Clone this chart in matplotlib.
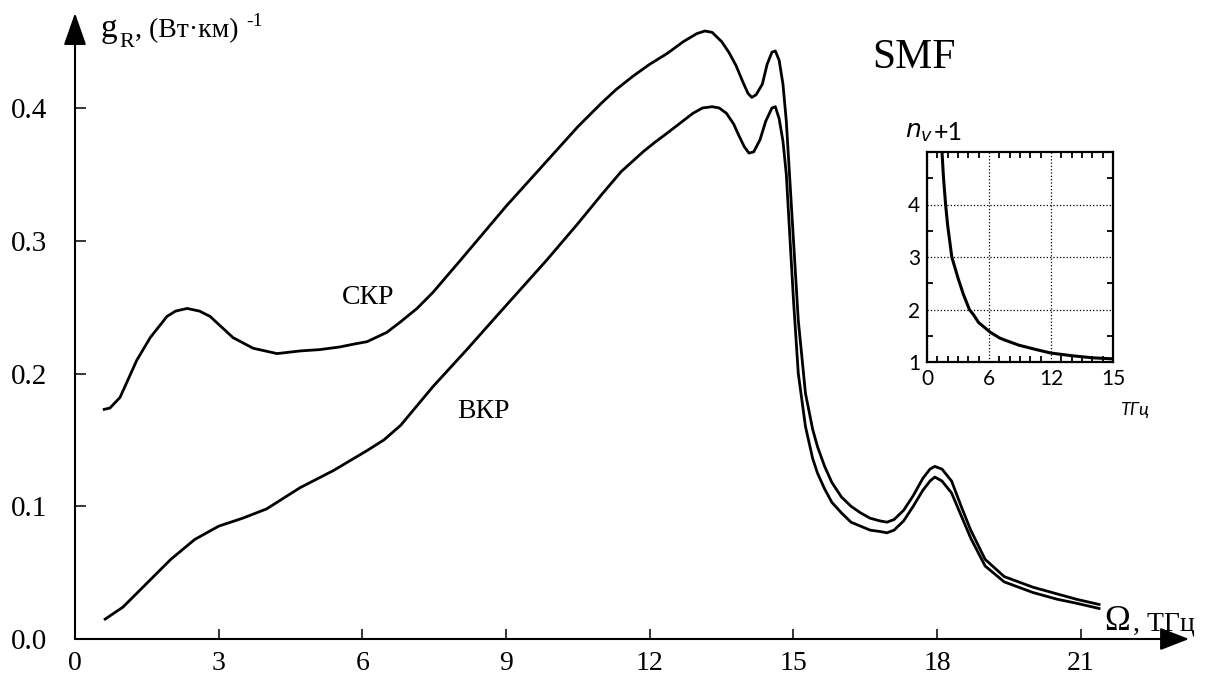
import matplotlib.pyplot as plt
from matplotlib.ticker import FixedLocator, MultipleLocator

W, H = 1211, 679

# upper curve (СКР), THz / (W*km)^-1
freq_skr = [0.61, 0.73, 0.94, 1.29, 1.57, 1.92, 2.1, 2.34, 2.6, 2.82, 3.30, 3.72,
            4.22, 4.7, 5.11, 5.53, 5.8, 6.10, 6.51, 6.8, 7.14, 7.47, 8.04, 9.0,
            10.0, 10.5, 11.0, 11.3, 11.65, 12.0, 12.36, 12.7, 12.98, 13.15, 13.3, 13.5, 13.65,
            13.8, 13.95, 14.05, 14.13, 14.22, 14.35, 14.45, 14.55, 14.62, 14.7,
            14.78, 14.85, 15.0, 15.1, 15.25, 15.4, 15.5, 15.65, 15.8, 16.0,
            16.2, 16.4, 16.6, 16.8, 16.95, 17.1, 17.3, 17.5, 17.7, 17.85,
            17.95, 18.1, 18.3, 18.5, 18.7, 19.0, 19.4, 20.0, 20.5, 20.9, 21.38]
g_skr = [0.173, 0.174, 0.182, 0.210, 0.227, 0.243, 0.247, 0.249, 0.247, 0.243, 0.227, 0.219,
         0.215, 0.217, 0.218, 0.220, 0.222, 0.224, 0.231, 0.239, 0.249, 0.261, 0.285, 0.326,
         0.366, 0.386, 0.404, 0.414, 0.424, 0.433, 0.441, 0.450, 0.456, 0.458, 0.457, 0.450, 0.442,
         0.432, 0.419, 0.411, 0.408, 0.410, 0.418, 0.433, 0.442, 0.443, 0.436,
         0.418, 0.390, 0.300, 0.240, 0.185, 0.158, 0.145, 0.130, 0.118, 0.107,
         0.100, 0.095, 0.091, 0.089, 0.088, 0.090, 0.097, 0.108, 0.121, 0.128,
         0.130, 0.128, 0.119, 0.100, 0.082, 0.060, 0.047, 0.039, 0.034, 0.030, 0.026]

# lower curve (ВКР)
freq_vkr = [0.63, 1.0, 1.5, 2.0, 2.5, 3.0, 3.5, 4.0, 4.7, 5.4,
            6.1, 6.45, 6.8, 7.1, 7.47, 8.18, 8.87, 9.85, 10.5, 11.0, 11.4, 11.86, 12.1, 12.36,
            12.9, 13.1, 13.3, 13.45, 13.6, 13.75, 13.85, 13.97, 14.07, 14.17,
            14.3, 14.42, 14.55, 14.62, 14.7, 14.78, 14.85, 15.0, 15.1, 15.25,
            15.4, 15.5, 15.65, 15.8, 16.0, 16.2, 16.4, 16.6, 16.8, 16.95,
            17.1, 17.3, 17.5, 17.7, 17.85, 17.95, 18.1, 18.3, 18.5, 18.7,
            19.0, 19.4, 20.0, 20.5, 20.9, 21.38]
g_vkr = [0.015, 0.024, 0.042, 0.060, 0.075, 0.085, 0.091, 0.098, 0.114, 0.127,
         0.142, 0.150, 0.161, 0.174, 0.190, 0.218, 0.246, 0.2855, 0.313, 0.335, 0.352, 0.367, 0.374, 0.381,
         0.396, 0.400, 0.401, 0.400, 0.396, 0.388, 0.380, 0.371, 0.366, 0.367,
         0.376, 0.390, 0.400, 0.401, 0.392, 0.375, 0.350, 0.255, 0.200, 0.160,
         0.136, 0.125, 0.113, 0.103, 0.095, 0.088, 0.085, 0.082, 0.081, 0.080,
         0.082, 0.089, 0.100, 0.112, 0.119, 0.122, 0.119, 0.110, 0.093, 0.076,
         0.055, 0.043, 0.035, 0.030, 0.027, 0.023]

x_ticks = [0, 3, 6, 9, 12, 15, 18, 21]
y_ticks = [0.0, 0.1, 0.2, 0.3, 0.4]

# inset: n_v + 1 vs frequency
freq_n = [1.45, 1.6, 1.8, 2.0, 2.4, 2.7, 3.0, 3.5, 4.1, 4.5, 5.0, 5.5, 6.1, 7.0,
          7.5, 8.9, 10.5, 12.0, 14.0, 16.0, 18.0]
n_plus1 = [5.0, 4.5, 4.0, 3.6, 3.0, 2.8, 2.6, 2.3, 2.0, 1.9, 1.75, 1.67, 1.57, 1.46,
           1.42, 1.32, 1.24, 1.17, 1.12, 1.08, 1.06]
inset_xticks = [0, 6, 12, 18]
inset_xlabels = ['0', '6', '12', '15']
inset_yticks = [1, 2, 3, 4]

serif = 'Liberation Serif'
sans = 'Lato'


def px(x, y):
    return x / W, 1 - y / H


fig = plt.figure(figsize=(W / 100, H / 100), dpi=100)

# main axes: x from 75px (0 THz) to 1189px (arrow tip), y from 639px to 13px
x_right = (1189 - 75) / 47.9
y_top = (639 - 13) / 1327.5
ax = fig.add_axes([75 / W, (H - 639) / H, (1189 - 75) / W, (639 - 13) / H])
ax.set_xlim(0, x_right)
ax.set_ylim(0, y_top)

ax.plot(freq_skr, g_skr, color='black', lw=2.0, solid_joinstyle='round')
ax.plot(freq_vkr, g_vkr, color='black', lw=2.0, solid_joinstyle='round')

for s in ax.spines.values():
    s.set_visible(False)
ax.annotate('', xy=(1, 0), xytext=(0, 0), xycoords='axes fraction',
            arrowprops=dict(arrowstyle='-|>,head_length=0.9,head_width=0.35',
                            color='black', lw=1.5, mutation_scale=20,
                            shrinkA=0, shrinkB=0))
ax.annotate('', xy=(0, 1), xytext=(0, 0), xycoords='axes fraction',
            arrowprops=dict(arrowstyle='-|>,head_length=1.0,head_width=0.35',
                            color='black', lw=1.5, mutation_scale=20,
                            shrinkA=0, shrinkB=0))

ax.set_xticks(x_ticks)
ax.set_xticklabels([str(t) for t in x_ticks])
ax.xaxis.set_minor_locator(FixedLocator([6, 12, 18]))
ax.set_yticks(y_ticks)
ax.set_yticklabels(['%.1f' % t for t in y_ticks])
ax.yaxis.set_minor_locator(FixedLocator([0.0, 0.2, 0.4]))
ax.tick_params(axis='x', which='major', direction='in', length=7, width=1.1,
               pad=9, labelsize=20)
ax.tick_params(axis='x', which='minor', direction='in', length=13, width=1.1)
ax.tick_params(axis='y', which='major', direction='in', length=8, width=1.1,
               pad=20, labelsize=21)
ax.tick_params(axis='y', which='minor', direction='in', length=16, width=1.1)
for lab in ax.get_xticklabels() + ax.get_yticklabels():
    lab.set_fontfamily(serif)

# axis labels
fig.text(*px(101, 37), 'g', fontsize=24, family=serif, va='baseline')
fig.text(*px(119, 47), 'R', fontsize=16, family=serif, va='baseline')
fig.text(*px(135, 37), ', (Вт·км)', fontsize=20, family=serif, va='baseline')
fig.text(*px(246, 26), '-1', fontsize=14, family=serif, va='baseline')

fig.text(*px(1104, 630), 'Ω', fontsize=25, family=serif, va='baseline')
fig.text(*px(1133, 630), ', ТГц', fontsize=20, family=serif, va='baseline')

fig.text(*px(368, 298), 'СКР', fontsize=20, family=serif, ha='center', va='center')
fig.text(*px(483, 412), 'ВКР', fontsize=20, family=serif, ha='center', va='center')
fig.text(*px(914, 58), 'SMF', fontsize=30, family=serif, ha='center', va='center')

# inset
axi = fig.add_axes([927 / W, (H - 362) / H, (1113 - 927) / W, (362 - 152) / H])
axi.plot(freq_n, n_plus1, color='black', lw=2.2, solid_joinstyle='round')
axi.set_xlim(0, 18)
axi.set_ylim(1, 5)
axi.set_xticks(inset_xticks)
axi.set_xticklabels(inset_xlabels)
axi.set_yticks(inset_yticks)
axi.xaxis.set_minor_locator(MultipleLocator(1))
axi.yaxis.set_minor_locator(MultipleLocator(0.5))
axi.tick_params(which='both', direction='in', top=True, right=True, width=1.3)
axi.tick_params(which='major', length=0, labelsize=15, pad=5)
axi.tick_params(which='minor', length=4)
for lab in axi.get_xticklabels() + axi.get_yticklabels():
    lab.set_fontfamily(sans)
for s in axi.spines.values():
    s.set_linewidth(1.6)
axi.grid(True, which='major', linestyle=':', color='black', lw=0.9)

fig.text(*px(905, 133), r'$n_v$', fontsize=18, family=sans, va='center')
fig.text(*px(934, 133), '+1', fontsize=18, family=sans, va='center')
fig.text(*px(1135, 410), 'ТГц', fontsize=13, family=sans, style='italic',
         ha='center', va='center')

fig.savefig('out.png', dpi=100)
